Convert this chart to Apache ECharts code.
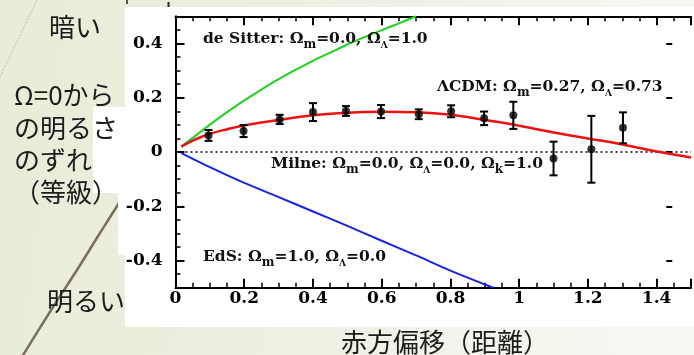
<!DOCTYPE html>
<html><head><meta charset="utf-8">
<script src="https://cdn.jsdelivr.net/npm/echarts@6/dist/echarts.min.js"></script>
<style>html,body{margin:0;padding:0;background:#eef1e2;}#c{width:694px;height:355px;}</style>
</head><body><div id="c"></div>
<script>
// ---- data ----
const xTickValues = [0, 0.2, 0.4, 0.6, 0.8, 1.0, 1.2, 1.4];
const xTickLabels = ['0', '0.2', '0.4', '0.6', '0.8', '1', '1.2', '1.4'];
const yTickValues = [-0.4, -0.2, 0, 0.2, 0.4];
const yTickLabels = ['-0.4', '-0.2', '0', '0.2', '0.4'];

const deSitterX = [0.017, 0.05, 0.1, 0.15, 0.2, 0.25, 0.3, 0.35, 0.4, 0.45, 0.5, 0.55, 0.6, 0.65, 0.70];
const deSitterY = [0.02, 0.052, 0.101, 0.147, 0.19, 0.23, 0.268, 0.303, 0.336, 0.366, 0.396, 0.423, 0.449, 0.474, 0.5];

const lcdmX = [0.017, 0.05, 0.1, 0.15, 0.2, 0.3, 0.4, 0.5, 0.6, 0.7, 0.8, 0.9, 1.0, 1.1, 1.2, 1.3, 1.4, 1.5];
const lcdmY = [0.02, 0.042, 0.067, 0.084, 0.098, 0.118, 0.135, 0.145, 0.148, 0.146, 0.137, 0.118, 0.097, 0.072, 0.05, 0.028, 0.002, -0.02];

const edsX = [0.017, 0.1, 0.2, 0.3, 0.4, 0.5, 0.6, 0.7, 0.8, 0.9, 0.925];
const edsY = [-0.004, -0.056, -0.114, -0.166, -0.219, -0.272, -0.327, -0.381, -0.437, -0.488, -0.5];

const milneX = [0, 1.5];
const milneY = [0, 0];

const sneX = [0.096, 0.198, 0.303, 0.40, 0.496, 0.598, 0.708, 0.802, 0.898, 0.983, 1.10, 1.21, 1.302];
const sneY = [0.061, 0.077, 0.12, 0.147, 0.151, 0.149, 0.139, 0.15, 0.124, 0.135, -0.024, 0.01, 0.089];
const sneErr = [0.02, 0.022, 0.017, 0.033, 0.018, 0.024, 0.018, 0.022, 0.025, 0.05, 0.062, 0.123, 0.057];

// ---- chart ----
const pairs = (xs, ys) => xs.map((x, i) => [x, ys[i]]);
const serifB = '"DejaVu Serif", serif';
const annFont = '"DejaVu Serif", serif';
const jp = '"Noto Sans CJK JP", sans-serif';

function labelFor(values, labels) {
  return function (v) {
    for (let i = 0; i < values.length; i++) {
      if (Math.abs(values[i] - v) < 1e-6) return labels[i];
    }
    return '';
  };
}

const tickStyle = (w) => ({ color: '#000', width: w });
const gridL = 175.5, gridT = 16.25, gridW = 542.25, gridH = 271.5;

const rich = {
  t: { fontFamily: annFont, fontWeight: 'bold', fontSize: 15.5, lineHeight: 23, fill: '#111' },
  m: { fontFamily: annFont, fontWeight: 'bold', fontSize: 12, lineHeight: 13, verticalAlign: 'bottom', fill: '#111' },
  l: { fontFamily: annFont, fontWeight: 'bold', fontSize: 9, lineHeight: 11, verticalAlign: 'bottom', fill: '#111' }
};
function ann(text, x, y) {
  return { type: 'text', z: 10, silent: true, style: { text: text, x: x, y: y, rich: rich, verticalAlign: 'middle', align: 'left' } };
}
function jtext(text, x, y) {
  return { type: 'text', z: 10, silent: true, style: { text: text, x: x, y: y, fontFamily: jp, fontSize: 26, fill: '#1c1c1c', verticalAlign: 'middle', align: 'left' } };
}

const chart = echarts.init(document.getElementById('c'), null, { renderer: 'canvas' });
chart.setOption({
  animation: false,
  backgroundColor: 'transparent',
  graphic: { elements: [
    { type: 'rect', z: -100, silent: true, shape: { x: 0, y: 0, width: 694, height: 355 },
      style: { fill: { type: 'linear', x: 0, y: 0, x2: 1, y2: 0.25, colorStops: [
        { offset: 0, color: '#e7ecd6' }, { offset: 0.5, color: '#eef0e3' }, { offset: 1, color: '#f8f8f3' } ] } } },
    { type: 'polyline', z: -99, silent: true, shape: { points: [[0, 77], [37, 0]] },
      style: { stroke: '#c4c8b6', lineWidth: 1.2, lineDash: [2, 1.5], fill: null } },
    { type: 'polyline', z: -99, silent: true, shape: { smooth: 0.3, points: [[20, 360], [53, 307], [77, 270], [100, 233], [125, 194], [145, 166]] },
      style: { stroke: '#7a6f5b', lineWidth: 2.5, fill: null } },
    { type: 'rect', z: -98, silent: true, shape: { x: 125, y: 7, width: 569, height: 320 }, style: { fill: '#fff' } },
    { type: 'rect', z: -98, silent: true, shape: { x: 93, y: 107, width: 33, height: 86 }, style: { fill: '#fff' } },
    { type: 'rect', z: -98, silent: true, shape: { x: 118, y: 193, width: 8, height: 62 }, style: { fill: '#fff' } },
    { type: 'line', z: -97, silent: true, shape: { x1: 127, y1: 0, x2: 127, y2: 4 }, style: { stroke: '#222', lineWidth: 1.5 } },
    { type: 'line', z: -97, silent: true, shape: { x1: 168.5, y1: 2, x2: 168.5, y2: 7 }, style: { stroke: '#222', lineWidth: 2 } },
    jtext('暗い', 49, 27),
    jtext('Ω=0から', 14, 95),
    jtext('の明るさ', 14, 128),
    jtext('のずれ', 14, 160),
    jtext('（等級）', 14, 192),
    jtext('明るい', 47, 301),
    jtext('赤方偏移（距離）', 341, 342),
    ann('{t|de Sitter: Ω}{m|m}{t|=0.0, Ω}{l|Λ}{t|=1.0}', 203, 39),
    ann('{t|ΛCDM: Ω}{m|m}{t|=0.27, Ω}{l|Λ}{t|=0.73}', 437, 87),
    ann('{t|Milne: Ω}{m|m}{t|=0.0, Ω}{l|Λ}{t|=0.0, Ω}{m|k}{t|=1.0}', 271, 164),
    ann('{t|EdS: Ω}{m|m}{t|=1.0, Ω}{l|Λ}{t|=0.0}', 203, 257)
  ] },
  grid: [
    { left: gridL, top: gridT, width: gridW, height: gridH, containLabel: false },
    { left: gridL, top: gridT + gridH * 0.1, width: gridW, height: gridH * 0.8, containLabel: false }
  ],
  xAxis: [
    { gridIndex: 0, type: 'value', min: 0, max: 1.5, interval: 0.05, position: 'bottom',
      axisLine: { show: true, onZero: false, lineStyle: { color: '#000', width: 2 } },
      axisTick: { show: true, inside: true, length: 5, lineStyle: tickStyle(1.5) },
      axisLabel: { show: true, margin: 2, formatter: labelFor(xTickValues, xTickLabels), fontFamily: serifB, fontWeight: 'bold', fontSize: 17, color: '#000' },
      splitLine: { show: false } },
    { gridIndex: 0, type: 'value', min: 0, max: 1.5, interval: 0.2, position: 'bottom',
      axisLine: { show: false, onZero: false }, axisTick: { show: true, inside: true, length: 9, lineStyle: tickStyle(2) },
      axisLabel: { show: false }, splitLine: { show: false } },
    { gridIndex: 0, type: 'value', min: 0, max: 1.5, interval: 0.05, position: 'top',
      axisLine: { show: true, onZero: false, lineStyle: { color: '#000', width: 2 } },
      axisTick: { show: true, inside: true, length: 5, lineStyle: tickStyle(1.5) },
      axisLabel: { show: false }, splitLine: { show: false } },
    { gridIndex: 0, type: 'value', min: 0, max: 1.5, interval: 0.2, position: 'top',
      axisLine: { show: false, onZero: false }, axisTick: { show: true, inside: true, length: 9, lineStyle: tickStyle(2) },
      axisLabel: { show: false }, splitLine: { show: false } },
    { gridIndex: 1, type: 'value', min: 0, max: 1.5, show: false }
  ],
  yAxis: [
    { gridIndex: 0, type: 'value', min: -0.5, max: 0.5, interval: 0.05, position: 'left',
      axisLine: { show: true, onZero: false, lineStyle: { color: '#000', width: 2 } },
      axisTick: { show: true, inside: true, length: 5, lineStyle: tickStyle(1.5) },
      axisLabel: { show: false }, splitLine: { show: false } },
    { gridIndex: 1, type: 'value', min: -0.4, max: 0.4, interval: 0.2, position: 'left',
      axisLine: { show: false, onZero: false }, axisTick: { show: true, inside: true, length: 9, lineStyle: tickStyle(2) },
      axisLabel: { show: true, margin: 13, formatter: labelFor(yTickValues, yTickLabels), fontFamily: serifB, fontWeight: 'bold', fontSize: 17, color: '#000' },
      splitLine: { show: false } },
    { gridIndex: 1, type: 'value', min: -0.4, max: 0.4, interval: 0.2, position: 'right', offset: -21.75,
      axisLine: { show: false, onZero: false }, axisTick: { show: true, inside: true, length: 6, lineStyle: tickStyle(2) },
      axisLabel: { show: false }, splitLine: { show: false } }
  ],
  series: [
    { type: 'line', xAxisIndex: 0, yAxisIndex: 0, data: pairs(milneX, milneY), showSymbol: false, silent: true,
      lineStyle: { color: '#000', width: 1.6, type: [2, 3] }, z: 3 },
    { type: 'line', xAxisIndex: 0, yAxisIndex: 0, data: pairs(deSitterX, deSitterY), showSymbol: false, smooth: 0.3, silent: true,
      lineStyle: { color: '#22d022', width: 2 }, z: 4 },
    { type: 'line', xAxisIndex: 0, yAxisIndex: 0, data: pairs(edsX, edsY), showSymbol: false, smooth: 0.3, silent: true,
      lineStyle: { color: '#1a22e6', width: 2 }, z: 4 },
    { type: 'line', xAxisIndex: 0, yAxisIndex: 0, data: pairs(lcdmX, lcdmY), showSymbol: false, smooth: 0.4, silent: true,
      lineStyle: { color: '#ee1111', width: 2.5 }, z: 4 },
    { type: 'custom', xAxisIndex: 0, yAxisIndex: 0, silent: true, z: 5,
      data: sneX.map((x, i) => [x, sneY[i], sneErr[i]]),
      encode: { x: 0, y: 1 },
      renderItem: function (params, api) {
        const x = api.value(0), y = api.value(1), e = api.value(2);
        const a = api.coord([x, y + e]), b = api.coord([x, y - e]);
        const hw = 4, st = { stroke: '#000', lineWidth: 2 };
        return { type: 'group', children: [
          { type: 'line', shape: { x1: a[0], y1: a[1], x2: b[0], y2: b[1] }, style: st },
          { type: 'line', shape: { x1: a[0] - hw, y1: a[1], x2: a[0] + hw, y2: a[1] }, style: st },
          { type: 'line', shape: { x1: b[0] - hw, y1: b[1], x2: b[0] + hw, y2: b[1] }, style: st }
        ] };
      } },
    { type: 'scatter', xAxisIndex: 0, yAxisIndex: 0, silent: true, z: 6, symbol: 'circle', symbolSize: 8,
      data: pairs(sneX, sneY), itemStyle: { color: '#000' } }
  ]
});
</script>
</body></html>
